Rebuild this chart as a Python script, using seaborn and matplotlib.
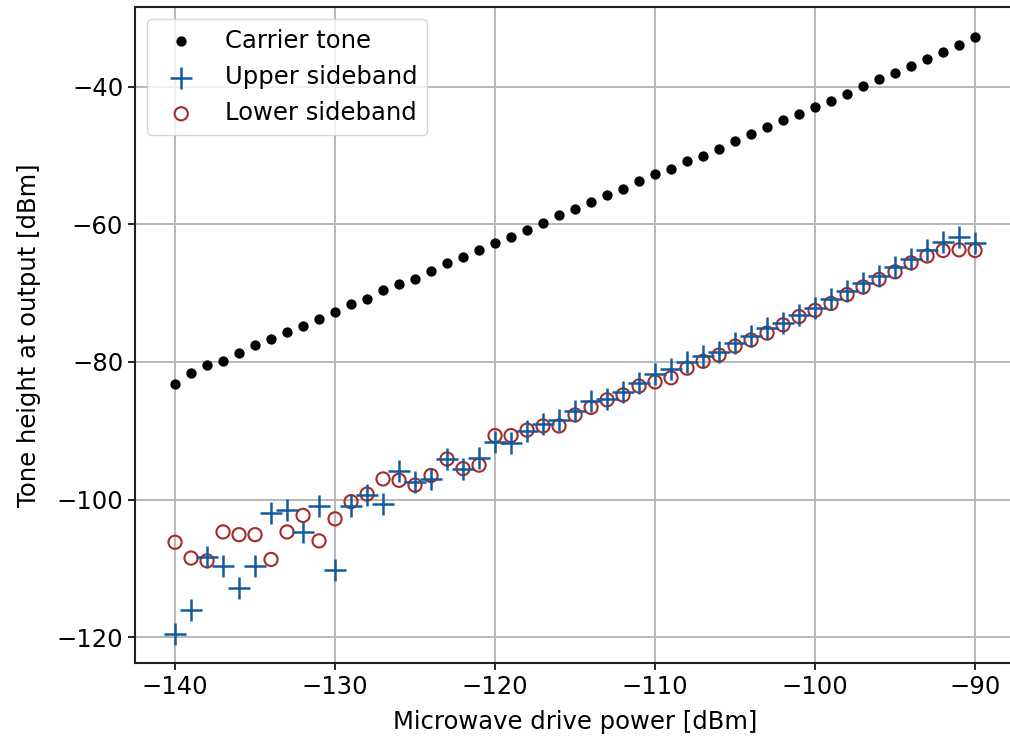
import matplotlib
matplotlib.use("Agg")
import matplotlib.pyplot as plt
import seaborn as sns
import pandas as pd

power_dbm = list(range(-140, -89))

carrier_tone = [
    -83.2, -81.6, -80.4, -79.8, -78.7, -77.6, -76.6, -75.6, -74.7, -73.7,
    -72.7, -71.6, -70.8, -69.6, -68.7, -67.9, -66.8, -65.6, -64.8, -63.7,
    -62.7, -61.9, -60.8, -59.8, -58.7, -57.7, -56.7, -55.8, -54.9, -53.7,
    -52.7, -51.9, -50.8, -50.0, -49.0, -47.9, -46.9, -45.9, -44.9, -43.9,
    -43.0, -42.0, -41.0, -39.9, -38.9, -38.0, -37.0, -36.0, -34.9, -33.9,
    -32.8,
]

upper_sideband = [
    -119.5, -116.0, -108.4, -109.6, -112.9, -109.6, -101.9, -101.5, -104.7, -100.9,
    -110.2, -100.9, -99.3, -100.6, -95.8, -97.4, -97.0, -94.1, -95.5, -94.0,
    -91.6, -91.8, -90.0, -89.0, -88.4, -87.1, -85.6, -85.4, -84.4, -83.1,
    -81.8, -81.0, -80.0, -79.2, -78.6, -77.3, -76.2, -75.1, -74.4, -73.2,
    -72.1, -70.9, -69.7, -68.5, -67.5, -66.2, -65.1, -63.7, -62.6, -61.9,
    -62.7,
]

lower_sideband = [
    -106.2, -108.5, -108.9, -104.7, -105.1, -105.1, -108.7, -104.7, -102.3, -106.0,
    -102.8, -100.3, -99.2, -97.0, -97.2, -97.9, -96.5, -94.1, -95.5, -95.0,
    -90.7, -90.7, -89.9, -89.3, -89.3, -87.7, -86.6, -85.5, -84.8, -83.5,
    -82.9, -82.3, -80.9, -79.9, -79.0, -77.7, -76.8, -75.8, -74.6, -73.4,
    -72.5, -71.5, -70.2, -69.1, -68.0, -66.9, -65.6, -64.6, -63.8, -63.7,
    -63.8,
]

x_ticks = [-140, -130, -120, -110, -100, -90]
y_ticks = [-120, -100, -80, -60, -40]

df = pd.DataFrame({
    "power": power_dbm,
    "carrier": carrier_tone,
    "upper": upper_sideband,
    "lower": lower_sideband,
})

FS = 17.5

sns.set_theme(style="ticks")
plt.rcParams["font.family"] = ["DejaVu Sans"]
plt.rcParams["font.size"] = FS
plt.rcParams["text.color"] = "black"
plt.rcParams["axes.labelcolor"] = "black"

fig = plt.figure(figsize=(10.1, 7.4), dpi=100)
ax = fig.add_axes([0.1337, 0.1036, 0.8713, 0.887])

sns.scatterplot(data=df, x="power", y="carrier", ax=ax, color="black",
                marker="o", s=55, linewidth=0, label="Carrier tone", zorder=3)
sns.scatterplot(data=df, x="power", y="upper", ax=ax, color="#115b9e",
                marker="+", s=270, linewidth=1.8, label="Upper sideband", zorder=4)
sns.scatterplot(data=df, x="power", y="lower", ax=ax, facecolor="none",
                edgecolor="#a52a2a", marker="o", s=90, linewidth=1.5,
                label="Lower sideband", zorder=3)

ax.set_xlim(-142.5, -87.5)
ax.set_ylim(-123.8, -28.4)
ax.set_xticks(x_ticks)
ax.set_yticks(y_ticks)
ax.grid(True, color="#b8b8b8", linewidth=1.4)
ax.set_axisbelow(True)

ax.set_xlabel("Microwave drive power [dBm]", fontsize=FS, color="black", labelpad=8)
ax.set_ylabel("Tone height at output [dBm]", fontsize=FS, color="black", labelpad=11)
ax.tick_params(axis="both", labelsize=FS, length=5, width=1.2, color="black", labelcolor="black")
for sp in ax.spines.values():
    sp.set_color("#222222")
    sp.set_linewidth(1.5)
ax.spines["right"].set_visible(False)

leg = ax.legend(loc="upper left", fontsize=FS, frameon=True, framealpha=0.8,
                edgecolor="#cccccc", fancybox=True)

fig.savefig("out.png", dpi=100)
